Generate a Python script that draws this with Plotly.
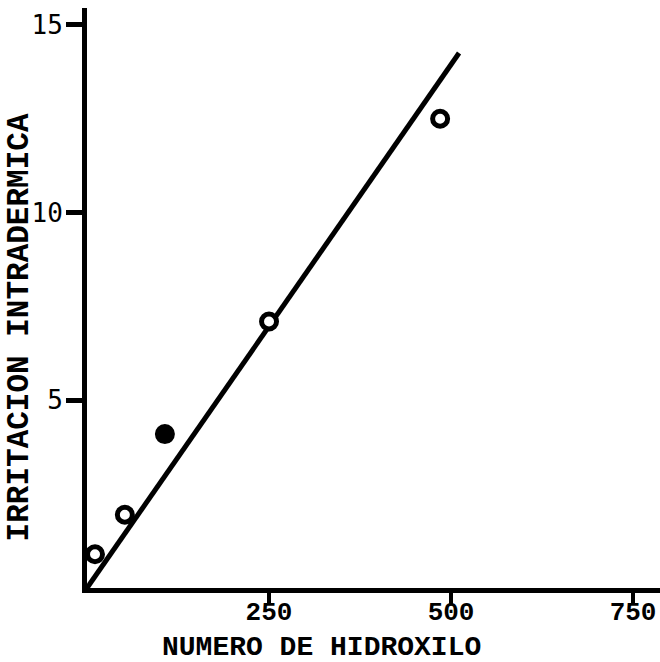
import plotly.graph_objects as go

# Hydroxyl number vs. intradermal irritation
hidroxilo = [11, 52, 107, 250, 485]
irritacion = [0.9, 1.95, 4.1, 7.1, 12.5]
relleno = ["white", "white", "black", "white", "white"]

# fitted line through the origin
recta_x = [0, 511]
recta_y = [0, 14.25]

x_ticks = [250, 500, 750]
y_ticks = [5, 10, 15]

fig = go.Figure()

fig.add_trace(go.Scatter(
    x=recta_x, y=recta_y, mode="lines",
    line=dict(color="black", width=5),
    hoverinfo="skip", showlegend=False,
))

fig.add_trace(go.Scatter(
    x=hidroxilo, y=irritacion, mode="markers",
    marker=dict(size=15, color=relleno, line=dict(color="black", width=5)),
    showlegend=False,
))

fig.update_xaxes(
    range=[0, 787], tickvals=x_ticks, ticktext=[str(v) for v in x_ticks],
    showgrid=False, zeroline=False, showline=True, linecolor="black", linewidth=5,
    ticks="outside", ticklen=12, tickwidth=4, tickcolor="black",
    tickfont=dict(family="Liberation Mono", size=26, color="black", weight="bold"),
    ticklabelstandoff=-16,
)
fig.update_yaxes(
    range=[0, 15.45], tickvals=y_ticks, ticktext=[str(v) for v in y_ticks],
    showgrid=False, zeroline=False, showline=True, linecolor="black", linewidth=5,
    ticks="outside", ticklen=16, tickwidth=5, tickcolor="black",
    tickfont=dict(family="DejaVu Sans Mono", size=26, color="black"),
    ticklabelstandoff=-2,
)

fig.add_annotation(
    text="NUMERO DE HIDROXILO", xref="paper", yref="paper",
    x=0.41, y=-0.103, xanchor="center", yanchor="middle", showarrow=False,
    borderpad=0,
    font=dict(family="Liberation Mono", size=28, color="black", weight="bold"),
)
fig.add_annotation(
    text="IRRITACION INTRADERMICA", xref="paper", yref="paper",
    x=-0.118, y=0.45, xanchor="center", yanchor="middle", showarrow=False,
    textangle=-90,
    font=dict(family="Liberation Mono", size=31, color="black", weight="bold"),
)

fig.update_layout(
    width=660, height=662,
    margin=dict(l=87, r=0, t=8, b=74),
    paper_bgcolor="white", plot_bgcolor="white",
)

fig.write_html("out.html")
